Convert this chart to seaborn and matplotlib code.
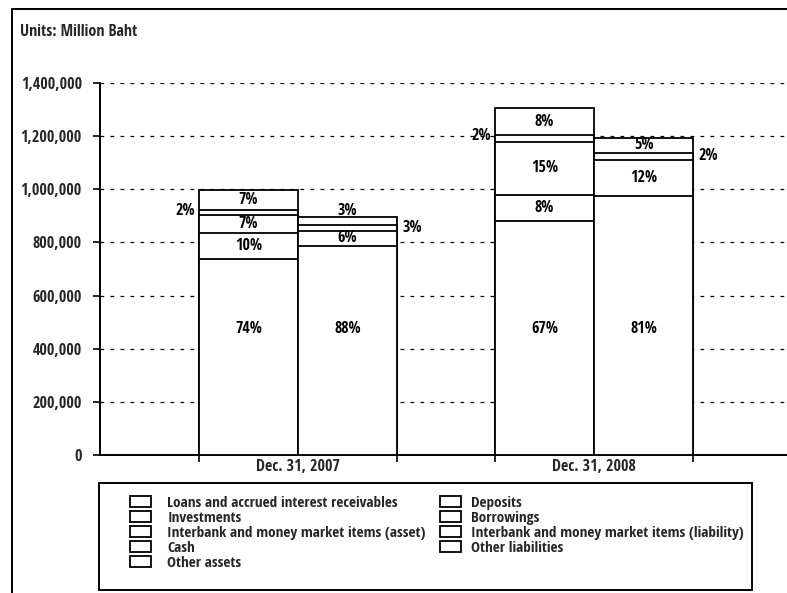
import os
import matplotlib
matplotlib.use("Agg")
import matplotlib.pyplot as plt
import seaborn as sns
import pandas as pd
from matplotlib import font_manager as fm
from matplotlib.font_manager import FontProperties
from matplotlib.patches import Patch, Rectangle
from matplotlib.lines import Line2D

# ---------------- data ----------------
dates = ["Dec. 31, 2007", "Dec. 31, 2008"]
sides = ["Assets", "Liabilities"]
asset_items = ["Loans and accrued interest receivables", "Investments",
               "Interbank and money market items (asset)", "Cash", "Other assets"]
liab_items = ["Deposits", "Borrowings",
              "Interbank and money market items (liability)", "Other liabilities"]

assets_2007 = [737000, 98500, 66300, 19900, 73800]
assets_2008 = [880000, 99000, 200000, 25000, 102000]
liab_2007 = [787000, 57700, 22500, 28500]
liab_2008 = [974000, 137000, 27000, 54000]

assets_pct_2007 = ["74%", "10%", "7%", "2%", "7%"]
assets_pct_2008 = ["67%", "8%", "15%", "2%", "8%"]
liab_pct_2007 = ["88%", "6%", "3%", "3%"]
liab_pct_2008 = ["81%", "12%", "2%", "5%"]

yticks = [0, 200000, 400000, 600000, 800000, 1000000, 1200000, 1400000]
ytick_labels = ["0", "200,000", "400,000", "600,000", "800,000",
                "1,000,000", "1,200,000", "1,400,000"]
unit_text = "Units: Million Baht"

# ---------------- styling ----------------
sns.set_theme(style="white")
plt.rcParams["font.family"] = ["Liberation Sans", "DejaVu Sans"]
plt.rcParams["font.weight"] = "bold"


def pick_font():
    prefs = ["LiberationSansNarrow-Bold", "NotoSans-CondensedBold",
             "OpenSans-CondBold", "RobotoCondensed-Bold",
             "NotoSans-ExtraCondensedBold", "DejaVuSansCondensed-Bold"]
    files = [f.fname for f in fm.fontManager.ttflist]
    for p in prefs:
        for f in files:
            if os.path.basename(f).split(".")[0] == p:
                return f
    return None


FONT_FILE = pick_font()
SCALE = 1.0 if FONT_FILE else 0.85


def fp(size):
    if FONT_FILE:
        return FontProperties(fname=FONT_FILE, size=size * SCALE)
    return FontProperties(family=["Liberation Sans", "DejaVu Sans"],
                          weight="bold", size=size * SCALE)


# label placement styles (not data)
asset_place = {"Dec. 31, 2007": ["base", "mid", "mid", "left", "mid"],
               "Dec. 31, 2008": ["base", "mid", "mid", "left", "mid"]}
liab_place = {"Dec. 31, 2007": ["base", "mid", "right", "above"],
              "Dec. 31, 2008": ["base", "mid", "right", "mid"]}
BASE_LABEL_Y = 475000

# ---------------- long-form table ----------------
rows = []


def add(date, side, items, vals, pcts, places):
    cum = 0
    for k, (it, v, p, pl) in enumerate(zip(items, vals, pcts, places)):
        rows.append(dict(date=date, side=side, item=it, layer=k, value=v,
                         bottom=cum, top=cum + v, label=p, place=pl))
        cum += v


add(dates[0], "Assets", asset_items, assets_2007, assets_pct_2007, asset_place[dates[0]])
add(dates[1], "Assets", asset_items, assets_2008, assets_pct_2008, asset_place[dates[1]])
add(dates[0], "Liabilities", liab_items, liab_2007, liab_pct_2007, liab_place[dates[0]])
add(dates[1], "Liabilities", liab_items, liab_2008, liab_pct_2008, liab_place[dates[1]])
df = pd.DataFrame(rows)

# ---------------- figure ----------------
W, H = 787, 593
fig = plt.figure(figsize=(W / 100, H / 100), dpi=100)
ax = fig.add_axes([100 / W, 138 / H, (W - 100) / W, (455 - 83) / H])

GROUP_W = 0.67
bar_w = GROUP_W / 2
pal = {"Assets": "white", "Liabilities": "white"}

# draw cumulative stacks from the top layer down so each boundary shows
for side in sides:
    sub_side = df[df.side == side]
    for k in sorted(sub_side.layer.unique(), reverse=True):
        layer_df = sub_side[sub_side.layer == k]
        sns.barplot(data=layer_df, x="date", y="top", hue="side",
                    order=dates, hue_order=sides, palette=pal,
                    width=GROUP_W, dodge=True, saturation=1, errorbar=None,
                    edgecolor="black", linewidth=1.3, legend=False, ax=ax,
                    zorder=3)

ax.set_xlim(-0.669, 1.652)
ax.set_ylim(0, 1400000)
ax.set_xlabel("")
ax.set_ylabel("")

# grid
ax.set_yticks(yticks)
ax.set_yticklabels(ytick_labels)
ax.yaxis.grid(True, linestyle=(0, (3, 5)), color="black", linewidth=0.9)
ax.set_axisbelow(True)

# x ticks: labels at categories, marks at bar edges
ax.set_xticks(range(len(dates)))
ax.set_xticklabels(dates)
edges = [i + o * bar_w for i in range(len(dates)) for o in (-1, 0, 1)]
ax.set_xticks(edges, minor=True)
ax.tick_params(axis="x", which="major", length=0, pad=3)
ax.tick_params(axis="x", which="minor", length=5, width=1.2, direction="out",
               color="black", bottom=True)
ax.tick_params(axis="y", length=5, width=1.2, direction="out", color="black",
               left=True, pad=8)
for lab in ax.get_xticklabels():
    lab.set_fontproperties(fp(11.5))
for lab in ax.get_yticklabels():
    lab.set_fontproperties(fp(11.5))

for s in ["top", "right"]:
    ax.spines[s].set_visible(False)
for s in ["left", "bottom"]:
    ax.spines[s].set_color("black")
    ax.spines[s].set_linewidth(1.4)

# ---------------- value labels ----------------
for _, r in df.iterrows():
    ci = dates.index(r.date)
    cx = ci - bar_w / 2 if r.side == "Assets" else ci + bar_w / 2
    kw = dict(fontproperties=fp(11.5), color="black", zorder=5)
    if r.place == "base":
        ax.text(cx, BASE_LABEL_Y, r.label, ha="center", va="center", **kw)
    elif r.place == "mid":
        ax.text(cx, (r.bottom + r.top) / 2, r.label, ha="center", va="center", **kw)
    elif r.place == "left":
        ax.annotate(r.label, (cx - bar_w / 2, (r.bottom + r.top) / 2),
                    xytext=(-4, 2), textcoords="offset pixels",
                    ha="right", va="center", **kw)
    elif r.place == "right":
        ax.annotate(r.label, (cx + bar_w / 2, (r.bottom + r.top) / 2),
                    xytext=(5, 0), textcoords="offset pixels",
                    ha="left", va="center", **kw)
    elif r.place == "above":
        ax.annotate(r.label, (cx, r.top), xytext=(0, 6),
                    textcoords="offset pixels", ha="center", va="center", **kw)

# ---------------- title / frame ----------------
fig.text(20 / W, 1 - 32 / H, unit_text, ha="left", va="center",
         fontproperties=fp(11.5))
fig.add_artist(Line2D([12 / W, 12 / W], [0, 1 - 9 / H], transform=fig.transFigure,
                      color="black", linewidth=1.4))
fig.add_artist(Line2D([12 / W, 1], [1 - 9 / H, 1 - 9 / H], transform=fig.transFigure,
                      color="black", linewidth=1.4))

# ---------------- legend ----------------
fig.add_artist(Rectangle((99 / W, 1 - 590 / H), (752 - 99) / W, (590 - 483) / H,
                         transform=fig.transFigure, fill=False,
                         edgecolor="black", linewidth=1.4))


def handles(items):
    return [Patch(facecolor="white", edgecolor="black", linewidth=1.3, label=t)
            for t in items]


leg_kw = dict(frameon=False, loc="upper left", borderpad=0, borderaxespad=0,
              handlelength=1.35, handleheight=0.7, labelspacing=0.06,
              prop=fp(11))
leg1 = fig.legend(handles=handles(asset_items), bbox_to_anchor=(130 / W, 1 - 496 / H),
                  handletextpad=1.1, **leg_kw)
leg2 = fig.legend(handles=handles(liab_items), bbox_to_anchor=(440 / W, 1 - 496 / H),
                  handletextpad=0.7, **leg_kw)

fig.savefig("out.png", dpi=100)
